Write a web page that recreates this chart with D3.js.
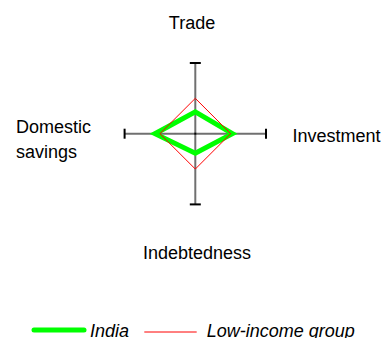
<!DOCTYPE html>
<html><head><meta charset="utf-8">
<script src="https://cdn.jsdelivr.net/npm/d3@7"></script>
<style>body{margin:0;background:#fff}svg{display:block}text{font-family:"Liberation Sans",Arial,sans-serif;fill:#000}</style>
</head><body>
<script>
const axesNames = ["Trade", "Investment", "Indebtedness", "Domestic savings"];
const angles = [-90, 0, 90, 180]; // degrees: up, right, down, left
const indiaValues = [0.62, 1.05, 0.55, 1.14];
const lowIncomeValues = [1, 1, 1, 1];
const axisMax = 2;
const seriesNames = ["India", "Low-income group"];

const W = 384, H = 338, cx = 195.3, cy = 133.7, R = 70.7;
const svg = d3.select("body").append("svg").attr("width", W).attr("height", H);
const r = d3.scaleLinear().domain([0, axisMax]).range([0, R]);
const pt = (v, i) => { const a = angles[i] * Math.PI / 180; return [cx + r(v) * Math.cos(a), cy + r(v) * Math.sin(a)]; };

// axes
const g = svg.append("g");
angles.forEach((a, i) => {
  const [x1, y1] = pt(-axisMax, i), [x2, y2] = pt(axisMax, i);
});
g.append("line").attr("x1", cx).attr("x2", cx).attr("y1", pt(axisMax,0)[1]).attr("y2", pt(axisMax,2)[1]).attr("stroke", "#707070").attr("stroke-width", 2);
g.append("line").attr("y1", cy).attr("y2", cy).attr("x1", pt(axisMax,3)[0]).attr("x2", pt(axisMax,1)[0]).attr("stroke", "#707070").attr("stroke-width", 2);
// caps
[0, 2].forEach(i => { const [x, y] = pt(axisMax, i); g.append("line").attr("x1", x - 5.5).attr("x2", x + 5.5).attr("y1", y).attr("y2", y).attr("stroke", "#000").attr("stroke-width", 2); });
[1, 3].forEach(i => { const [x, y] = pt(axisMax, i); g.append("line").attr("y1", y - 5).attr("y2", y + 5).attr("x1", x).attr("x2", x).attr("stroke", "#000").attr("stroke-width", 2); });
g.append("rect").attr("x", cx - 1).attr("y", cy - 1).attr("width", 2).attr("height", 2).attr("fill", "#000");

const line = d3.line().curve(d3.curveLinearClosed);
svg.append("path").attr("d", line(indiaValues.map(pt))).attr("fill", "none").attr("stroke", "#00ff00").attr("stroke-width", 5).attr("stroke-linejoin", "miter").attr("stroke-miterlimit", 10);
svg.append("path").attr("d", line(lowIncomeValues.map(pt))).attr("fill", "none").attr("stroke", "#ff0000").attr("stroke-width", 1);

// labels
const fs = "18px";
svg.append("text").attr("x", 192).attr("y", 29).attr("text-anchor", "middle").style("font-size", fs).text(axesNames[0]);
svg.append("text").attr("x", 292.5).attr("y", 142.3).style("font-size", fs).text(axesNames[1]);
svg.append("text").attr("x", 197).attr("y", 259).attr("text-anchor", "middle").style("font-size", fs).text(axesNames[2]);
const dl = svg.append("text").attr("x", 16).attr("y", 132.7).style("font-size", fs);
axesNames[3].split(" ").forEach((w, k) => dl.append("tspan").attr("x", 16).attr("dy", k ? 25.3 : 0).text(w));

// legend
svg.append("line").attr("x1", 34).attr("x2", 84).attr("y1", 330).attr("y2", 330).attr("stroke", "#00ff00").attr("stroke-width", 5).attr("stroke-linecap", "round");
svg.append("text").attr("x", 90).attr("y", 336.7).style("font-size", fs).style("font-style", "italic").text(seriesNames[0]);
svg.append("line").attr("x1", 144.3).attr("x2", 196.7).attr("y1", 332).attr("y2", 332).attr("stroke", "#ff0000").attr("stroke-width", 1);
svg.append("text").attr("x", 206.7).attr("y", 336.7).style("font-size", fs).style("font-style", "italic").text(seriesNames[1]);
</script>
</body></html>
